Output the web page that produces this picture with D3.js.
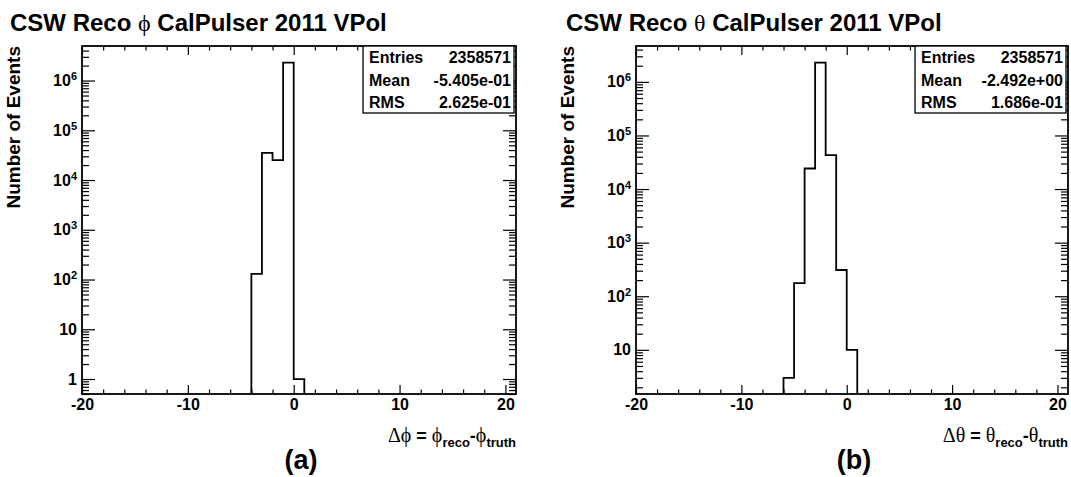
<!DOCTYPE html>
<html>
<head>
<meta charset="utf-8">
<script src="https://cdn.jsdelivr.net/npm/d3@7"></script>
<style>
  body { margin: 0; background: #fff; }
  svg text { font-family: "Liberation Sans", Arial, sans-serif; font-weight: bold; fill: #000; }
  .sym { font-family: "Liberation Serif", "DejaVu Serif", serif; font-weight: normal; }
</style>
</head>
<body>
<svg id="chart" width="1071" height="477"></svg>
<script>
// histogram contents, bin width 1, low edges
const phiBinLow = [-4, -3, -2, -1, 0];
const phiCounts = [130, 35300, 25200, 2297940, 1];
const thetaBinLow = [-6, -5, -4, -3, -2, -1, 0];
const thetaCounts = [3, 175, 24200, 2291074, 42800, 309, 10];

const phiStats = [["Entries", "2358571"], ["Mean", "-5.405e-01"], ["RMS", "2.625e-01"]];
const thetaStats = [["Entries", "2358571"], ["Mean", "-2.492e+00"], ["RMS", "1.686e-01"]];

const xRange = [-20, 21];
const xMajor = [-20, -10, 0, 10, 20];

const svg = d3.select('#chart');

function drawPanel(o) {
    const g = svg.append('g');
    const x = d3.scaleLinear().domain(xRange).range([o.left, o.right]);

    // ROOT style log range
    const ymin = 0.5 * d3.min(o.counts);
    const lmax = Math.log10(d3.max(o.counts));
    const lmin = Math.log10(ymin);
    const ymax = Math.pow(10, lmax + 0.05 * (lmax - lmin));
    const y = d3.scaleLog().domain([ymin, ymax]).range([o.bottom, o.top]);

    // title
    const title = g.append('text').attr('x', o.titleX).attr('y', 31).attr('font-size', 24);
    title.append('tspan').text('CSW Reco ');
    title.append('tspan').attr('class', 'sym').text(o.greek);
    title.append('tspan').text(' CalPulser 2011 VPol');

    // x ticks
    const xMinor = d3.range(-20, 21, 2).filter(v => !xMajor.includes(v));
    g.append('g').attr('transform', `translate(0,${o.bottom})`)
        .call(d3.axisBottom(x).tickValues(xMajor).tickSize(-9).tickSizeOuter(0).tickPadding(5)
            .tickFormat(d => String(d)))
        .call(a => a.select('.domain').remove())
        .call(a => a.selectAll('text').attr('font-size', 16).attr('font-family', null));
    g.append('g').attr('transform', `translate(0,${o.bottom})`)
        .call(d3.axisBottom(x).tickValues(xMinor).tickSize(-4.5).tickSizeOuter(0).tickFormat(''))
        .call(a => a.select('.domain').remove());
    g.append('g').attr('transform', `translate(0,${o.top})`)
        .call(d3.axisTop(x).tickValues(xMajor).tickSize(-9).tickSizeOuter(0).tickFormat(''))
        .call(a => a.select('.domain').remove());
    g.append('g').attr('transform', `translate(0,${o.top})`)
        .call(d3.axisTop(x).tickValues(xMinor).tickSize(-4.5).tickSizeOuter(0).tickFormat(''))
        .call(a => a.select('.domain').remove());

    // y ticks
    const decades = [];
    const minors = [];
    for (let e = -1; e <= 7; e++) {
        const p = Math.pow(10, e);
        if (p >= ymin && p <= ymax) decades.push(p);
        for (let k = 2; k <= 9; k++) {
            const v = k * p;
            if (v >= ymin && v <= ymax) minors.push(v);
        }
    }
    const yl = g.append('g').attr('transform', `translate(${o.left},0)`)
        .call(d3.axisLeft(y).tickValues(decades).tickSize(-13).tickSizeOuter(0).tickPadding(5).tickFormat(''))
        .call(a => a.select('.domain').remove());
    yl.selectAll('.tick text').each(function(d) {
        const t = d3.select(this).attr('font-size', 16).attr('font-family', null);
        if (d < 100) {
            t.text(d);
        } else {
            t.append('tspan').text('10');
            t.append('tspan').attr('dy', '-0.55em').attr('font-size', 11).text(Math.round(Math.log10(d)));
        }
    });
    g.append('g').attr('transform', `translate(${o.left},0)`)
        .call(d3.axisLeft(y).tickValues(minors).tickSize(-7).tickSizeOuter(0).tickFormat(''))
        .call(a => a.select('.domain').remove());
    g.append('g').attr('transform', `translate(${o.right},0)`)
        .call(d3.axisRight(y).tickValues(decades).tickSize(-13).tickSizeOuter(0).tickFormat(''))
        .call(a => a.select('.domain').remove());
    g.append('g').attr('transform', `translate(${o.right},0)`)
        .call(d3.axisRight(y).tickValues(minors).tickSize(-7).tickSizeOuter(0).tickFormat(''))
        .call(a => a.select('.domain').remove());
    g.selectAll('.tick line').attr('stroke', '#000').attr('stroke-width', 1.2);

    // histogram outline
    const pts = [[x(o.binLow[0]), o.bottom]];
    o.binLow.forEach((lo, i) => {
        pts.push([x(lo), y(o.counts[i])]);
        pts.push([x(lo + 1), y(o.counts[i])]);
    });
    pts.push([x(o.binLow[o.binLow.length - 1] + 1), o.bottom]);
    g.append('path').attr('d', d3.line()(pts))
        .attr('fill', 'none').attr('stroke', '#000').attr('stroke-width', 1.8);

    // frame
    g.append('rect').attr('x', o.left).attr('y', o.top)
        .attr('width', o.right - o.left).attr('height', o.bottom - o.top)
        .attr('fill', 'none').attr('stroke', '#000').attr('stroke-width', 1.8);

    // stats box
    const sb = g.append('g');
    sb.append('rect').attr('x', o.statsX).attr('y', o.top)
        .attr('width', o.right - o.statsX - 2).attr('height', 67)
        .attr('fill', '#fff').attr('stroke', '#000').attr('stroke-width', 1.3);
    o.stats.forEach((s, i) => {
        sb.append('text').attr('x', o.statsX + 6).attr('y', o.top + 17 + i * 22.5)
            .attr('font-size', 16).text(s[0]);
        sb.append('text').attr('x', o.right - 5).attr('y', o.top + 17 + i * 22.5)
            .attr('font-size', 16).attr('text-anchor', 'end').text(s[1]);
    });

    // y title
    g.append('text')
        .attr('transform', `translate(${o.left - 62},${o.top}) rotate(-90)`)
        .attr('text-anchor', 'end').attr('font-size', 19).text('Number of Events');

    // x title
    const xt = g.append('text').attr('x', o.right).attr('y', 442)
        .attr('text-anchor', 'end').attr('font-size', 18);
    xt.append('tspan').attr('class', 'sym').attr('font-size', 20).text('\u0394' + o.greek);
    xt.append('tspan').text(' = ');
    xt.append('tspan').attr('class', 'sym').attr('font-size', 20).text(o.greek);
    xt.append('tspan').attr('dy', 5).attr('font-size', 13).text('reco');
    xt.append('tspan').attr('dy', -5).text('-');
    xt.append('tspan').attr('class', 'sym').attr('font-size', 20).text(o.greek);
    xt.append('tspan').attr('dy', 5).attr('font-size', 13).text('truth');

    // panel letter
    g.append('text').attr('x', (o.left + o.right) / 2 + 2).attr('y', 469)
        .attr('text-anchor', 'middle').attr('font-size', 27).text(o.letter);
}

drawPanel({
    left: 82, right: 516, top: 46, bottom: 394, titleX: 10, statsX: 363,
    binLow: phiBinLow, counts: phiCounts, stats: phiStats, greek: '\u03D5', letter: '(a)'
});
drawPanel({
    left: 636, right: 1068, top: 46, bottom: 394, titleX: 566, statsX: 915,
    binLow: thetaBinLow, counts: thetaCounts, stats: thetaStats, greek: '\u03B8', letter: '(b)'
});
</script>
</body>
</html>
